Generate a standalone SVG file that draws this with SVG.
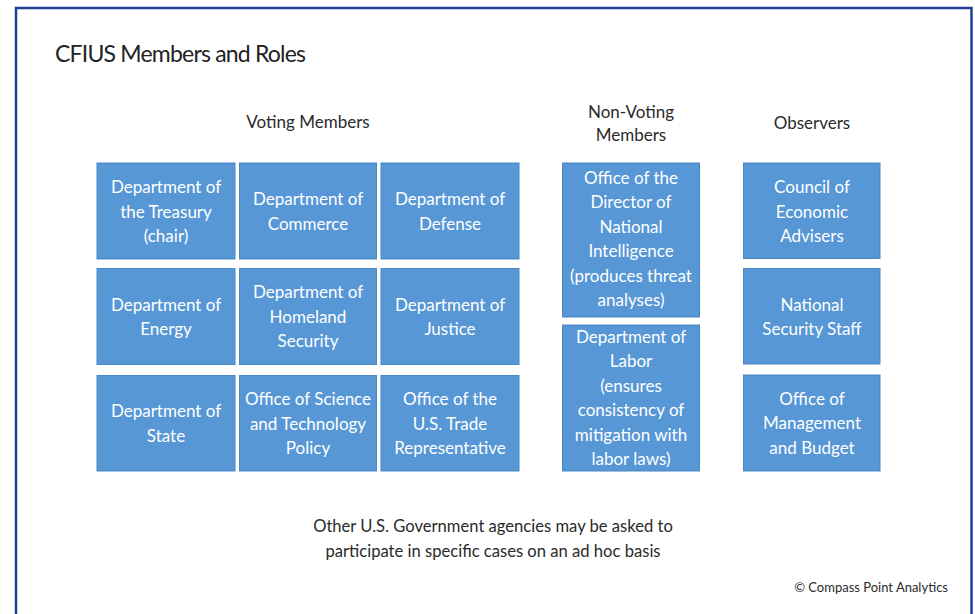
<svg xmlns="http://www.w3.org/2000/svg" width="975" height="614" viewBox="0 0 975 614">
  <style>
    .frame { fill: #ffffff; stroke: #1f3f96; stroke-width: 2.5; }
    .box { fill: #5797d6; stroke: #4a87c4; stroke-width: 1; }
    .lbl { font-family: Lato, "Liberation Sans", sans-serif; font-size: 17px; fill: #ffffff; text-anchor: middle; }
    .head { font-family: Lato, "Liberation Sans", sans-serif; font-size: 17px; fill: #2a2a2a; text-anchor: middle; }
    .title { font-family: Lato, "Liberation Sans", sans-serif; font-size: 23px; letter-spacing: -0.8px; fill: #222222; }
    .note { font-family: Lato, "Liberation Sans", sans-serif; font-size: 16.6px; fill: #2a2a2a; text-anchor: middle; }
    .copy { font-family: Lato, "Liberation Sans", sans-serif; font-size: 13px; fill: #2a2a2a; text-anchor: end; }
  </style>

  <rect class="frame" x="16" y="8" width="955.5" height="620"/>

  <text class="title" x="55" y="62">CFIUS Members and Roles</text>

  <!-- column headings -->
  <text class="head" x="308" y="128">Voting Members</text>
  <text class="head" x="631" y="118">Non-Voting</text>
  <text class="head" x="631" y="141">Members</text>
  <text class="head" x="812" y="129">Observers</text>

  <!-- voting members -->
  <g id="treasury">
    <rect class="box" x="97" y="163" width="138" height="96"/>
    <text class="lbl" x="166" y="193">Department of</text>
    <text class="lbl" x="166" y="217.5">the Treasury</text>
    <text class="lbl" x="166" y="242">(chair)</text>
  </g>
  <g id="commerce">
    <rect class="box" x="239.5" y="163" width="137" height="96"/>
    <text class="lbl" x="308" y="205">Department of</text>
    <text class="lbl" x="308" y="229.5">Commerce</text>
  </g>
  <g id="defense">
    <rect class="box" x="381" y="163" width="138" height="96"/>
    <text class="lbl" x="450" y="205">Department of</text>
    <text class="lbl" x="450" y="229.5">Defense</text>
  </g>
  <g id="energy">
    <rect class="box" x="97" y="268.5" width="138" height="96"/>
    <text class="lbl" x="166" y="310.5">Department of</text>
    <text class="lbl" x="166" y="335">Energy</text>
  </g>
  <g id="homeland">
    <rect class="box" x="239.5" y="268.5" width="137" height="96"/>
    <text class="lbl" x="308" y="298">Department of</text>
    <text class="lbl" x="308" y="322.5">Homeland</text>
    <text class="lbl" x="308" y="347">Security</text>
  </g>
  <g id="justice">
    <rect class="box" x="381" y="268.5" width="138" height="96"/>
    <text class="lbl" x="450" y="310.5">Department of</text>
    <text class="lbl" x="450" y="335">Justice</text>
  </g>
  <g id="state">
    <rect class="box" x="97" y="375.5" width="138" height="95.5"/>
    <text class="lbl" x="166" y="417">Department of</text>
    <text class="lbl" x="166" y="441.5">State</text>
  </g>
  <g id="ostp">
    <rect class="box" x="239.5" y="375.5" width="137" height="95.5"/>
    <text class="lbl" x="308" y="405">Office of Science</text>
    <text class="lbl" x="308" y="429.5">and Technology</text>
    <text class="lbl" x="308" y="454">Policy</text>
  </g>
  <g id="ustr">
    <rect class="box" x="381" y="375.5" width="138" height="95.5"/>
    <text class="lbl" x="450" y="405">Office of the</text>
    <text class="lbl" x="450" y="429.5">U.S. Trade</text>
    <text class="lbl" x="450" y="454">Representative</text>
  </g>

  <!-- non-voting members -->
  <g id="odni">
    <rect class="box" x="562.5" y="163" width="137" height="154"/>
    <text class="lbl" x="631" y="183.5">Office of the</text>
    <text class="lbl" x="631" y="208">Director of</text>
    <text class="lbl" x="631" y="232.5">National</text>
    <text class="lbl" x="631" y="257">Intelligence</text>
    <text class="lbl" x="631" y="281.5">(produces threat</text>
    <text class="lbl" x="631" y="306">analyses)</text>
  </g>
  <g id="labor">
    <rect class="box" x="562.5" y="325" width="137" height="146"/>
    <text class="lbl" x="631" y="342.5">Department of</text>
    <text class="lbl" x="631" y="367">Labor</text>
    <text class="lbl" x="631" y="391.5">(ensures</text>
    <text class="lbl" x="631" y="416">consistency of</text>
    <text class="lbl" x="631" y="440.5">mitigation with</text>
    <text class="lbl" x="631" y="465">labor laws)</text>
  </g>

  <!-- observers -->
  <g id="cea">
    <rect class="box" x="743.5" y="163" width="136.5" height="95.5"/>
    <text class="lbl" x="812" y="193">Council of</text>
    <text class="lbl" x="812" y="217.5">Economic</text>
    <text class="lbl" x="812" y="242">Advisers</text>
  </g>
  <g id="nss">
    <rect class="box" x="743.5" y="268.5" width="136.5" height="95.5"/>
    <text class="lbl" x="812" y="310.5">National</text>
    <text class="lbl" x="812" y="335">Security Staff</text>
  </g>
  <g id="omb">
    <rect class="box" x="743.5" y="375" width="136.5" height="96"/>
    <text class="lbl" x="812" y="404.5">Office of</text>
    <text class="lbl" x="812" y="429">Management</text>
    <text class="lbl" x="812" y="453.5">and Budget</text>
  </g>

  <text class="note" x="493" y="532">Other U.S. Government agencies may be asked to</text>
  <text class="note" x="493" y="557">participate in specific cases on an ad hoc basis</text>

  <text class="copy" x="948" y="592">© Compass Point Analytics</text>
</svg>
